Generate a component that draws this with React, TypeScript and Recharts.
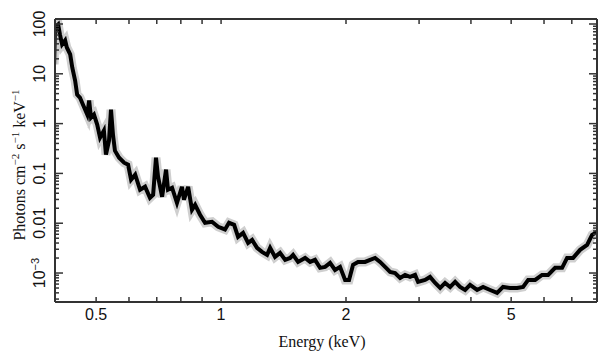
import React from 'react';
import { LineChart, Line, XAxis, YAxis } from 'recharts';

// energy bins (keV) and unfolded flux (photons cm^-2 s^-1 keV^-1)
const energy = [
  0.396, 0.398, 0.405, 0.409, 0.414, 0.421, 0.425, 0.433, 0.438, 0.445,
  0.45, 0.457, 0.468, 0.476, 0.481, 0.486, 0.494, 0.503, 0.511, 0.522,
  0.528, 0.537, 0.543, 0.549, 0.555, 0.568, 0.584, 0.597, 0.607, 0.621,
  0.638, 0.656, 0.674, 0.686, 0.697, 0.705, 0.721, 0.737, 0.745, 0.762,
  0.783, 0.805, 0.814, 0.833, 0.851, 0.866, 0.89, 0.915, 0.951, 0.984,
  1.022, 1.045, 1.075, 1.099, 1.13, 1.162, 1.188, 1.221, 1.255, 1.291,
  1.313, 1.349, 1.387, 1.427, 1.467, 1.491, 1.533, 1.594, 1.639, 1.684,
  1.732, 1.781, 1.831, 1.882, 1.935, 1.99, 2.034, 2.08, 2.138, 2.223,
  2.286, 2.35, 2.416, 2.484, 2.554, 2.626, 2.7, 2.775, 2.853, 2.934,
  2.983, 3.101, 3.188, 3.28, 3.372, 3.466, 3.564, 3.664, 3.766, 3.873,
  3.981, 4.139, 4.279, 4.449, 4.625, 4.78, 4.97, 5.168, 5.343, 5.494,
  5.711, 5.935, 6.138, 6.38, 6.633, 6.819, 7.05, 7.33, 7.62, 7.834,
  8.054,
];

const flux = [
  15.4, 85.5, 98, 61.8, 38.9, 46.8, 33.8, 24.5, 13.4, 7.33,
  3.83, 3.34, 2.1, 1.52, 2.9, 1.32, 1.52, 0.955, 0.523, 0.723,
  0.238, 0.455, 1.9, 0.601, 0.286, 0.207, 0.164, 0.15, 0.0747, 0.0942,
  0.047, 0.054, 0.0324, 0.0373, 0.207, 0.0859, 0.034, 0.119, 0.047, 0.0516,
  0.0257, 0.054, 0.0296, 0.054, 0.0186, 0.0234, 0.0148, 0.0102, 0.0107, 0.00847,
  0.0075, 0.0102, 0.00929, 0.00532, 0.00641, 0.00403, 0.00463, 0.0032, 0.00266, 0.00231,
  0.0032, 0.00211, 0.00254, 0.00184, 0.00201, 0.00231, 0.00167, 0.00201, 0.00167, 0.00184,
  0.00127, 0.00133, 0.0016, 0.00115, 0.00133, 0.000727, 0.000727, 0.00146, 0.00167, 0.00167,
  0.00184, 0.00201, 0.00167, 0.00133, 0.00105, 0.001, 0.000797, 0.000916, 0.000835, 0.000916,
  0.000662, 0.000727, 0.000835, 0.000632, 0.000501, 0.000632, 0.000525, 0.000662, 0.000525, 0.000457,
  0.000576, 0.000457, 0.000525, 0.000457, 0.000398, 0.000525, 0.000501, 0.000501, 0.000525, 0.000727,
  0.000727, 0.000916, 0.000916, 0.00127, 0.00127, 0.00201, 0.00201, 0.00292, 0.00367, 0.00585,
  0.00671,
];

const xMajor = [0.5, 1, 2, 5];
const xMinor = [0.6, 0.7, 0.8, 0.9, 3, 4, 6, 7];
const yMajor = [0.001, 0.01, 0.1, 1, 10, 100];
const yMajorLabels = ['10^-3', '0.01', '0.1', '1', '10', '100'];
const yMinor = [
  0.0003, 0.0004, 0.0005, 0.0006, 0.0007, 0.0008, 0.0009,
  0.002, 0.003, 0.004, 0.005, 0.006, 0.007, 0.008, 0.009,
  0.02, 0.03, 0.04, 0.05, 0.06, 0.07, 0.08, 0.09,
  0.2, 0.3, 0.4, 0.5, 0.6, 0.7, 0.8, 0.9,
  2, 3, 4, 5, 6, 7, 8, 9,
  20, 30, 40, 50, 60, 70, 80, 90,
];

const data = energy.map((e, i) => ({ e, flux: flux[i] }));
const xTicks = [...xMinor, ...xMajor].sort((a, b) => a - b);
const yTicks = [...yMinor, ...yMajor].sort((a, b) => a - b);

const INK = '#333';
const SANS = '"Liberation Sans", Arial, sans-serif';
const SERIF = '"Liberation Serif", "Times New Roman", serif';

const BottomTick = (props: any) => {
  const { x, y, payload } = props;
  const major = xMajor.includes(payload.value);
  return (
    <g>
      <line x1={x} y1={y} x2={x} y2={y - 5} stroke={INK} strokeWidth={1.5} />
      {major && (
        <text x={x} y={y + 18} textAnchor="middle" fontSize={16} fontFamily={SANS} fill="#111">
          {payload.value}
        </text>
      )}
    </g>
  );
};

const TopTick = (props: any) => {
  const { x, y } = props;
  return <line x1={x} y1={y} x2={x} y2={y + 5} stroke={INK} strokeWidth={1.5} />;
};

const LeftTick = (props: any) => {
  const { x, y, payload } = props;
  const idx = yMajor.indexOf(payload.value);
  const len = idx >= 0 ? 8 : 4;
  let label: React.ReactNode = null;
  if (idx >= 0) {
    const txt = yMajorLabels[idx];
    label = (
      <text
        transform={`translate(${x - 10},${y}) rotate(-90)`}
        textAnchor="middle"
        fontSize={16}
        fontFamily={SANS}
        fill="#111"
      >
        {txt === '10^-3' ? (
          <>
            10<tspan dy={-6} fontSize={11}>−3</tspan>
          </>
        ) : (
          txt
        )}
      </text>
    );
  }
  return (
    <g>
      <line x1={x} y1={y} x2={x + len} y2={y} stroke={INK} strokeWidth={1.5} />
      {label}
    </g>
  );
};

const RightTick = (props: any) => {
  const { x, y, payload } = props;
  const len = yMajor.includes(payload.value) ? 8 : 4;
  return <line x1={x} y1={y} x2={x - len} y2={y} stroke={INK} strokeWidth={1.5} />;
};

export default function App() {
  return (
    <div style={{ position: 'absolute', left: 0, top: 0, width: 609, height: 364, background: '#fff' }}>
      <LineChart width={609} height={364} data={data} margin={{ top: 0, right: 0, bottom: 0, left: 0 }}>
        <XAxis
          dataKey="e"
          type="number"
          scale="log"
          domain={[0.398, 8.05]}
          allowDataOverflow
          ticks={xTicks}
          interval={0}
          height={62}
          tickSize={0}
          tickMargin={0}
          tickLine={false}
          tick={<BottomTick />}
          axisLine={{ stroke: INK, strokeWidth: 2 }}
        />
        <XAxis
          xAxisId="top"
          orientation="top"
          dataKey="e"
          type="number"
          scale="log"
          domain={[0.398, 8.05]}
          allowDataOverflow
          ticks={xTicks}
          interval={0}
          height={19}
          tickSize={0}
          tickMargin={0}
          tickLine={false}
          tick={<TopTick />}
          axisLine={{ stroke: INK, strokeWidth: 2 }}
        />
        <YAxis
          type="number"
          scale="log"
          domain={[0.000262, 126]}
          allowDataOverflow
          ticks={yTicks}
          interval={0}
          width={55}
          tickSize={0}
          tickMargin={0}
          tickLine={false}
          tick={<LeftTick />}
          axisLine={{ stroke: INK, strokeWidth: 2 }}
          label={{
            content: () => (
              <text
                transform="translate(25,165) rotate(-90)"
                textAnchor="middle"
                fontSize={16}
                fontFamily={SERIF}
                fill="#111"
              >
                Photons cm<tspan dy={-6} fontSize={11}>−2</tspan>
                <tspan dy={6}> s</tspan>
                <tspan dy={-6} fontSize={11}>−1</tspan>
                <tspan dy={6}> keV</tspan>
                <tspan dy={-6} fontSize={11}>−1</tspan>
              </text>
            ),
          }}
        />
        <YAxis
          yAxisId="right"
          orientation="right"
          type="number"
          scale="log"
          domain={[0.000262, 126]}
          allowDataOverflow
          ticks={yTicks}
          interval={0}
          width={12}
          tickSize={0}
          tickMargin={0}
          tickLine={false}
          tick={<RightTick />}
          axisLine={{ stroke: INK, strokeWidth: 2 }}
        />
        <Line
          dataKey="flux"
          type="linear"
          stroke="#cfcfcf"
          strokeWidth={9}
          dot={false}
          isAnimationActive={false}
        />
        <Line
          dataKey="flux"
          type="linear"
          stroke="#000"
          strokeWidth={4}
          strokeLinejoin="miter"
          dot={false}
          isAnimationActive={false}
        />
        <Line
          xAxisId="top"
          yAxisId="right"
          dataKey="flux"
          stroke="none"
          dot={false}
          isAnimationActive={false}
        />
        <text x={322} y={347} textAnchor="middle" fontSize={16} fontFamily={SERIF} fill="#111">
          Energy (keV)
        </text>
      </LineChart>
    </div>
  );
}
